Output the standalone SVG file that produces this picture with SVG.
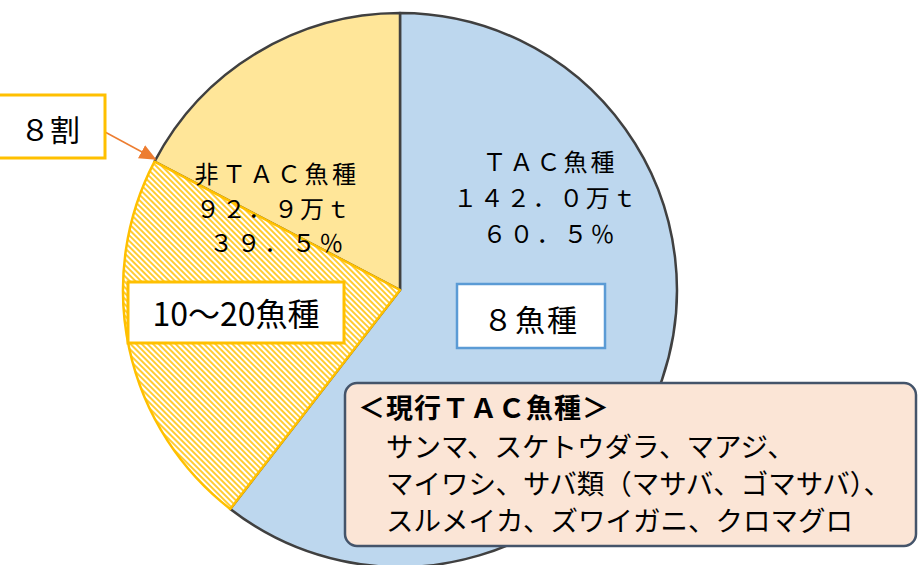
<svg xmlns="http://www.w3.org/2000/svg" width="921" height="565" viewBox="0 0 921 565">
<defs>
<style>
.t{font-family:"Noto Sans CJK JP","Noto Sans",sans-serif;fill:#000;}
.pie{stroke:#404040;stroke-width:2.5;stroke-linejoin:round;}
.ybox{fill:#fff;stroke:#FFC000;stroke-width:3;}
</style>
<pattern id="hatch" patternUnits="userSpaceOnUse" width="4" height="4" patternTransform="rotate(-45)">
<rect width="4" height="4" fill="#fff"/>
<rect x="0" y="0" width="2" height="4" fill="#FFCC33"/>
</pattern>
<marker id="arr" viewBox="0 0 10 10" refX="9" refY="5" markerWidth="17" markerHeight="15" markerUnits="userSpaceOnUse" orient="auto" preserveAspectRatio="none">
<path d="M0,0 L10,5 L0,10 Z" fill="#ED7D31"/>
</marker>
</defs>
<g id="pie">
<path id="slice-tac" class="pie" fill="#BDD7EE" d="M400,290 L400,13 A277,277 0 1 1 230.2,508.9 Z"/>
<path id="slice-nontac" class="pie" fill="#FFE699" d="M400,290 L154.5,161.7 A277,277 0 0 1 400,13 Z"/>
<path id="slice-hatched" fill="url(#hatch)" stroke="#FFC000" stroke-width="2.5" stroke-linejoin="round" d="M400,290 L230.2,508.9 A277,277 0 0 1 154.5,161.7 Z"/>
</g>
<g id="connectors">
<line x1="105" y1="132" x2="155" y2="159" stroke="#ED7D31" stroke-width="1.5" marker-end="url(#arr)"/>
</g>
<g id="label-tac">
<text class="t" font-size="24" letter-spacing="3" text-anchor="middle" x="550" y="171">ＴＡＣ魚種</text>
<text class="t" font-size="24" letter-spacing="2.5" text-anchor="middle" x="546" y="207">１４２．０万ｔ</text>
<text class="t" font-size="24" letter-spacing="3" text-anchor="middle" x="550" y="243">６０．５％</text>
</g>
<g id="label-nontac">
<text class="t" font-size="24" letter-spacing="3.5" text-anchor="middle" x="277" y="183">非ＴＡＣ魚種</text>
<text class="t" font-size="24" letter-spacing="2" text-anchor="middle" x="274" y="218">９２．９万ｔ</text>
<text class="t" font-size="24" letter-spacing="3.5" text-anchor="middle" x="278" y="252">３９．５％</text>
</g>
<g id="box-8wari">
<rect class="ybox" x="-3" y="95" width="108" height="63"/>
<text class="t" font-size="30" x="20" y="141">８割</text>
</g>
<g id="box-10-20">
<rect class="ybox" x="128" y="282" width="216" height="61"/>
<text class="t" font-size="32" x="236" y="326" text-anchor="middle">10～20魚種</text>
</g>
<g id="box-8species">
<rect x="457" y="284" width="148" height="64" fill="#fff" stroke="#5B9BD5" stroke-width="2.5"/>
<text class="t" font-size="30" x="531" y="331" text-anchor="middle" letter-spacing="2">８魚種</text>
</g>
<g id="box-current">
<rect x="345" y="383" width="571" height="163" rx="12" ry="12" fill="#FBE5D6" stroke="#44546A" stroke-width="2.5"/>
<text class="t" font-size="27" font-weight="bold" letter-spacing="1" x="358" y="418">＜現行ＴＡＣ魚種＞</text>
<text class="t" font-size="27.5" x="386" y="457">サンマ、スケトウダラ、マアジ、</text>
<text class="t" font-size="27.5" x="386" y="494">マイワシ、サバ類（マサバ、ゴマサバ）、</text>
<text class="t" font-size="27.5" x="386" y="531">スルメイカ、ズワイガニ、クロマグロ</text>
</g>
</svg>
